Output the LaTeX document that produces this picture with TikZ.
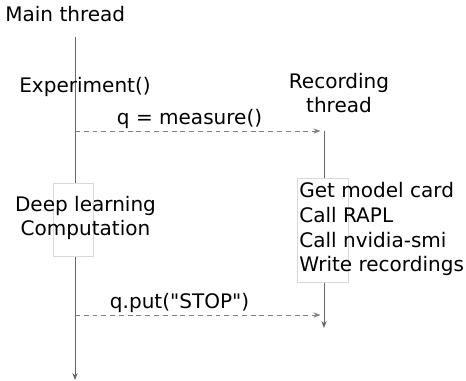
\documentclass[tikz,border=0pt]{standalone}
\usepackage{fontspec}
\setmainfont{DejaVu Sans}
\usetikzlibrary{arrows.meta}

\begin{document}
\begin{tikzpicture}[x=0.02cm,y=-0.02cm,
    txt/.style={inner sep=0pt,font=\fontsize{11.4}{14.2}\selectfont},
    thread/.style={draw=black!60,line width=0.5pt,-{Stealth[length=4pt,width=3pt]}},
    msg/.style={draw=black!50,line width=0.5pt,dash pattern=on 2.8pt off 2.2pt,
                shorten >=2pt,-{Stealth[length=4pt,width=3pt]}},
    busy/.style={draw=black!15,fill=white,line width=0.4pt,inner sep=0pt}]
    \useasboundingbox (0,0) rectangle (466,381);
    % \helpgrid{3}{3}
    \coordinate (mainTop) at (75,37);
    \coordinate (mainEnd) at (75,380);
    \coordinate (recTop) at (324,131);
    \coordinate (recEnd) at (324,328);
    \coordinate (startMsg) at (75,131);
    \coordinate (stopSrc) at (75,315);
    \coordinate (stopDst) at (324,315);
    \draw [thread] (mainTop) -- (mainEnd);
    \draw [thread] (recTop) -- (recEnd);
    \node [busy, minimum width=0.8cm, minimum height=1.46cm] (dlBox) at (73,219.5) {};
    \node [busy, minimum width=1.02cm, minimum height=2.08cm] (recBox) at (322.5,230) {};
    % multi-line nodes sit on the baseline of their last line
    \node [txt, anchor=base west] (mainName) at (5,22) {Main thread};
    \node [txt, anchor=base] (expCall) at (85,93) {Experiment()};
    \node [txt, anchor=base, align=center] (recName) at (339,113) {Recording\\thread};
    \node [txt, anchor=base, align=center] (dlText) at (85.5,236) {Deep learning\\Computation};
    \node [txt, anchor=base west, align=left] (recText) at (299,272)
        {Get model card\\Call RAPL\\Call nvidia-smi\\Write recordings};
    \draw [msg] (startMsg) -- (recTop) node [txt, pos=0.46, anchor=base, yshift=1.2mm] {q = measure()};
    \draw [msg] (stopSrc) -- (stopDst) node [txt, pos=0.42, anchor=base, yshift=1.4mm] {q.put(\textquotedbl STOP\textquotedbl)};
\end{tikzpicture}
\end{document}
